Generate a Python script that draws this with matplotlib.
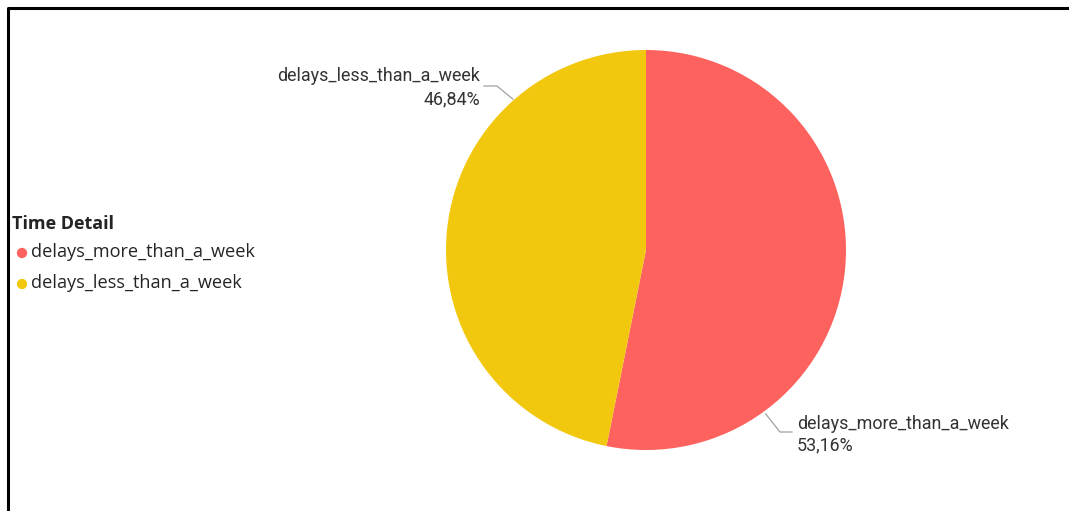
import matplotlib.pyplot as plt
import numpy as np

# share of delayed orders by delay length
categories = ['delays_more_than_a_week', 'delays_less_than_a_week']
shares = [53.16, 46.84]
colors = ['#FD625E', '#F2C80F']
legend_title = 'Time Detail'

W, H = 1069, 511
fig = plt.figure(figsize=(W / 100, H / 100), dpi=100)

# overlay in pixel units for the frame, legend and labels
bg = fig.add_axes([0, 0, 1, 1])
bg.set_xlim(0, W)
bg.set_ylim(H, 0)
bg.axis('off')
bg.plot([8, 8, W], [H, 8.5, 8.5], color='black', lw=2.2, solid_capstyle='butt')

# pie: center (646, 250), radius 200 px
cx, cy, r = 646, 250, 200
pax = fig.add_axes([(cx - r) / W, (H - cy - r) / H, 2 * r / W, 2 * r / H])
wedges, _ = pax.pie(shares, colors=colors, startangle=90, counterclock=False,
                    radius=1, wedgeprops=dict(linewidth=0))
pax.set_xlim(-1, 1)
pax.set_ylim(-1, 1)
pax.set_aspect('equal')

label_font = 'Roboto'
label_size = 12.9
txt_color = '#333333'
line_color = '#A0A0A0'

def to_px(ang):
    a = np.deg2rad(ang)
    return cx + r * np.cos(a), cy - r * np.sin(a)

# yellow slice label, upper left
ex, ey = to_px(131)
bg.plot([ex - 2, 497, 484], [ey, 86, 86], color=line_color, lw=0.9)
bg.text(480, 76, categories[1], ha='right', va='center', fontsize=label_size,
        family=label_font, color=txt_color)
bg.text(480, 99, f'{shares[1]:.2f}%'.replace('.', ','), ha='right', va='center',
        fontsize=label_size, family=label_font, color=txt_color)

# red slice label, lower right
ex, ey = to_px(-54)
bg.plot([ex + 2, 780, 792], [ey + 2, 432, 432], color=line_color, lw=0.9)
bg.text(797, 424, categories[0], ha='left', va='center', fontsize=label_size,
        family=label_font, color=txt_color)
bg.text(797, 445, f'{shares[0]:.2f}%'.replace('.', ','), ha='left', va='center',
        fontsize=label_size, family=label_font, color=txt_color)

# legend
bg.text(12, 224, legend_title, ha='left', va='center', fontsize=13,
        fontweight='bold', family='Open Sans', color='#252423')
for i, (name, c) in enumerate(zip(categories, colors)):
    y = 252 + i * 31
    bg.scatter([22], [y + 1], s=55, color=c, edgecolors='none')
    bg.text(31, y, name, ha='left', va='center', fontsize=13.1,
            family='Open Sans', color='#252423')

fig.savefig('out.png', dpi=100, facecolor='white')
